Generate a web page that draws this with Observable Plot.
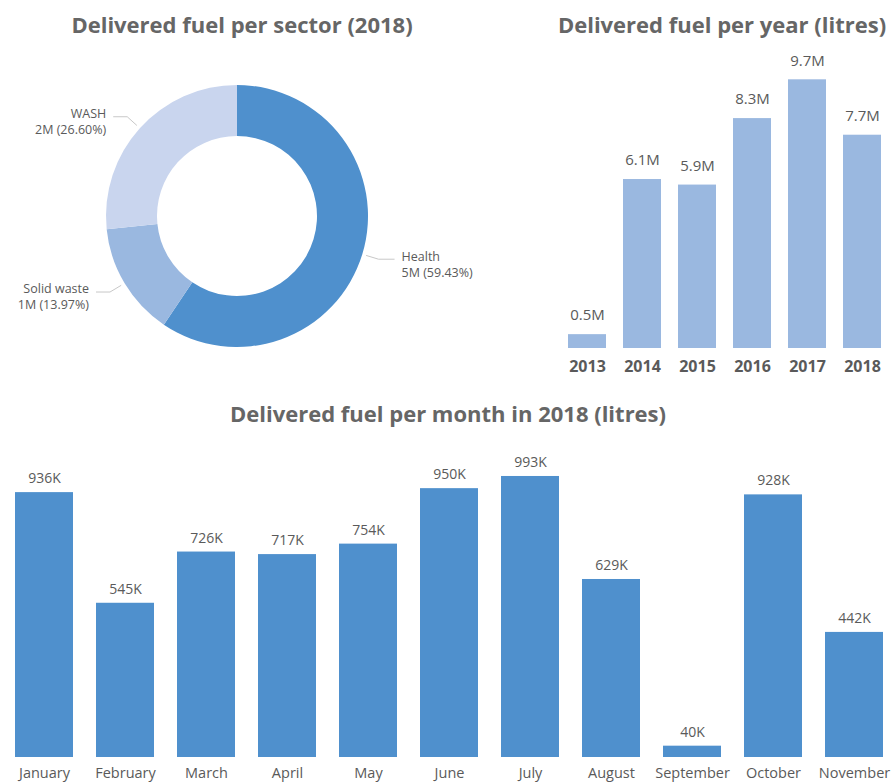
<!DOCTYPE html>
<html><head><meta charset="utf-8">
<script src="https://cdn.jsdelivr.net/npm/d3@7"></script>
<script src="https://cdn.jsdelivr.net/npm/@observablehq/plot@0.6"></script>
<style>
body{margin:0;background:#fff;font-family:"Open Sans",sans-serif;}
#wrap{position:relative;width:896px;height:782px;overflow:hidden;}
.title{position:absolute;font-weight:700;font-size:22px;line-height:28px;color:#666;white-space:nowrap;transform:translateX(-50%);}
.panel{position:absolute;}
.panel svg{overflow:visible;}
</style></head><body>
<div id="wrap">
<div class="title" style="left:242px;top:10px">Delivered fuel per sector (2018)</div>
<div class="title" style="left:722px;top:10px">Delivered fuel per year (litres)</div>
<div class="title" style="left:448px;top:399px">Delivered fuel per month in 2018 (litres)</div>
<div class="panel" id="donut" style="left:0;top:40px"></div>
<div class="panel" id="years" style="left:540px;top:40px"></div>
<div class="panel" id="months" style="left:0;top:430px"></div>
</div>
<script>
// ---- Data ----
const sectors = ["Health", "Solid waste", "WASH"];
const sectorShares = [59.43, 13.97, 26.60];
const sectorValueLabels = ["5M", "1M", "2M"];
const sectorColors = ["#4f90cd", "#9ab8e0", "#c9d5ee"];

const years = [2013, 2014, 2015, 2016, 2017, 2018];
const yearValues = [0.5, 6.1, 5.9, 8.3, 9.7, 7.7]; // millions of litres

const months = ["January","February","March","April","May","June","July","August","September","October","November"];
const monthValues = [936, 545, 726, 717, 754, 950, 993, 629, 40, 928, 442]; // thousands of litres

const textColor = "#5a5a5a";

// ---- Donut ----
const sectorData = sectors.map((s, i) => ({sector: s, share: sectorShares[i], label: sectorValueLabels[i]}));
const cx = 237, cy = 176, rOuter = 131, rInner = 80;
const donutMark = () => {
  const g = d3.create("svg:g").attr("transform", `translate(${cx},${cy})`);
  const arcs = d3.pie().sort(null).value(d => d.share)(sectorData);
  const arc = d3.arc().innerRadius(rInner).outerRadius(rOuter);
  g.selectAll("path").data(arcs).join("path")
    .attr("d", arc)
    .attr("fill", (d, i) => sectorColors[i]);
  arcs.forEach((a) => {
    const mid = (a.startAngle + a.endAngle) / 2;
    const pt = r => [r * Math.sin(mid), -r * Math.cos(mid)];
    const p1 = pt(135), p2 = pt(148);
    const right = Math.sin(mid) > 0;
    const p3 = [p2[0] + (right ? 16 : -14), p2[1]];
    g.append("polyline")
      .attr("points", [p1, p2, p3].map(p => p.join(",")).join(" "))
      .attr("fill", "none").attr("stroke", "#c8c8c8").attr("stroke-width", 1);
    const tx = p3[0] + (right ? 7 : -7);
    const t = g.append("text")
      .attr("text-anchor", right ? "start" : "end")
      .attr("fill", textColor).attr("font-size", 12.5)
      .attr("font-family", "Open Sans, sans-serif");
    t.append("tspan").attr("x", tx).attr("y", p3[1] - 3).attr("dy", "0.35em").text(a.data.sector);
    t.append("tspan").attr("x", tx).attr("y", p3[1] + 13).attr("dy", "0.35em")
      .text(`${a.data.label} (${a.data.share.toFixed(2)}%)`);
  });
  return g.node();
};
document.getElementById("donut").append(Plot.plot({
  width: 480, height: 340, margin: 0,
  x: {domain: [0, 480], range: [0, 480], axis: null},
  y: {domain: [0, 340], range: [0, 340], axis: null},
  marks: [donutMark]
}));

// ---- Per year ----
const yearData = years.map((y, i) => ({year: y, value: yearValues[i]}));
document.getElementById("years").append(Plot.plot({
  width: 356, height: 340, margin: 0,
  style: {fontFamily: "Open Sans, sans-serif", background: "transparent"},
  x: {type: "band", domain: years, range: [14.9, 353.1], paddingInner: 0.317, paddingOuter: 0.2, axis: null},
  y: {domain: [0, 10], range: [308, 31], axis: null},
  marks: [
    Plot.barY(yearData, {x: "year", y: "value", fill: "#9ab8e0"}),
    Plot.text(yearData, {x: "year", y: "value", text: d => d.value.toFixed(1) + "M", dy: -19, fontSize: 15, fill: textColor}),
    Plot.text(yearData, {x: "year", y: 0, text: d => String(d.year), dy: 18, fontSize: 16, fontWeight: 700, fill: textColor})
  ]
}));

// ---- Per month ----
const monthData = months.map((m, i) => ({month: m, value: monthValues[i]}));
document.getElementById("months").append(Plot.plot({
  width: 896, height: 352, margin: 0,
  style: {fontFamily: "Open Sans, sans-serif", background: "transparent"},
  x: {type: "band", domain: months, range: [0, 898], paddingInner: 0.286, paddingOuter: 0.172, axis: null},
  y: {domain: [0, 1000], range: [327, 44], axis: null},
  marks: [
    Plot.barY(monthData, {x: "month", y: "value", fill: "#4f90cd"}),
    Plot.text(monthData, {x: "month", y: "value", text: d => d.value + "K", dy: -14, fontSize: 14, fill: textColor}),
    Plot.text(monthData, {x: "month", y: 0, text: "month", dy: 16, fontSize: 14.5, fill: textColor})
  ]
}));
</script>
</body></html>
